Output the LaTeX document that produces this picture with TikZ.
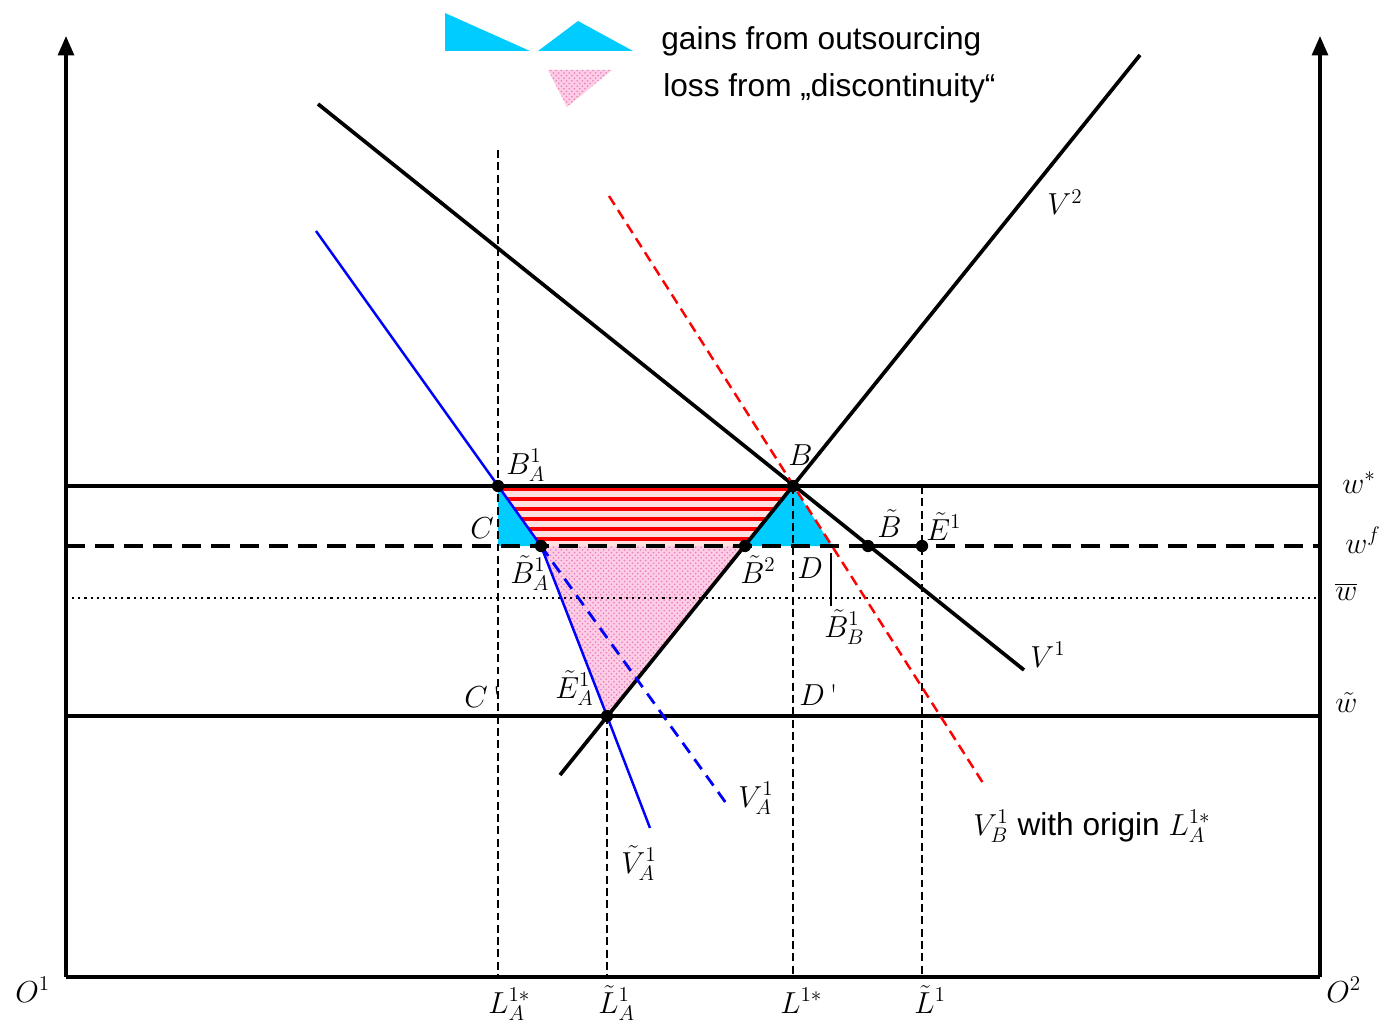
\documentclass[tikz,border=0pt]{standalone}
\usepackage{fontspec}
\newfontfamily\legendfont{Liberation Sans}
\usetikzlibrary{arrows.meta,patterns}
\definecolor{gaincyan}{RGB}{0,204,255}
\definecolor{losspink}{RGB}{252,205,228}
\definecolor{losshatch}{RGB}{236,120,190}

\begin{document}
\begin{tikzpicture}[x=0.02cm, y=-0.02cm, >={Triangle[length=11pt,width=9pt]},
  axis/.style={line width=1.9pt},
  curve/.style={line width=2.1pt},
  guide/.style={line width=0.75pt, dash pattern=on 4.5pt off 2.5pt},
  pt/.style={circle, fill, inner sep=0pt, minimum size=7pt},
  lbl/.style={anchor=base west, inner sep=0pt, font=\fontsize{17}{20}\selectfont},
  legend/.style={anchor=base west, inner sep=0pt, font=\legendfont\fontsize{18}{22}\selectfont}]
  \useasboundingbox (0,0) rectangle (1380,1027);

  \coordinate (O1) at (66,977);
  \coordinate (O2) at (1320,977);
  \coordinate (top1) at (66,36);
  \coordinate (top2) at (1320,36);
  \coordinate (BA) at (498,486);
  \coordinate (tBA) at (541,546);
  \coordinate (C) at (498,546);
  \coordinate (tB2) at (745,546);
  \coordinate (B) at (793,486);
  \coordinate (BB) at (832,546);
  \coordinate (tB) at (868,546);
  \coordinate (tE) at (922,546);
  \coordinate (tEA) at (607,716);

  % legend
  \fill[gaincyan] (445,13) -- (445,51) -- (530,51) -- cycle;
  \fill[gaincyan] (538,51) -- (578,21) -- (633,51) -- cycle;
  \fill[losspink, postaction={pattern=crosshatch dots, pattern color=losshatch}] (548,70) -- (612,70) -- (567,107) -- cycle;
  \node[legend] (gains) at (661,50) {gains from outsourcing};
  \node[legend] (loss) at (663,97) {loss from „discontinuity“};

  % areas
  \begin{scope}
    \clip (BA) -- (B) -- (tB2) -- (tBA) -- cycle;
    \fill[red!12] (480,480) rectangle (820,550);
    \foreach \y in {489,499,...,539}
      \draw[red, line width=2.4pt] (480,\y) -- (820,\y);
  \end{scope}
  \fill[gaincyan] (BA) -- (C) -- (tBA) -- cycle;
  \fill[gaincyan] (B) -- (tB2) -- (BB) -- cycle;
  \fill[losspink, postaction={pattern=crosshatch dots, pattern color=losshatch}] (tBA) -- (tB2) -- (tEA) -- cycle;

  % guides
  \draw[guide] (498,150) -- (498,977);
  \draw[guide] (tEA) -- (607,977);
  \draw[guide] (B) -- (793,977);
  \draw[guide] (922,486) -- (922,977);
  \draw[line width=1.2pt, dash pattern=on 1.2pt off 2.3pt] (66,598) -- (1320,598);
  \draw[line width=0.9pt] (831,553) -- (831,606);

  % axes and wage lines
  \draw[axis,->] (O1) -- (top1);
  \draw[axis,->] (O2) -- (top2);
  \draw[axis] (O1) -- (O2);
  \draw[curve] (66,486) -- (1320,486);
  \draw[curve, dash pattern=on 11pt off 5.5pt] (66,546) -- (1320,546);
  \draw[curve] (66,716) -- (1320,716);
  \draw[curve] (tB) -- (tE);

  % curves
  \draw[curve] (318,104) -- (1024,670);
  \draw[curve] (560,775) -- (1140,55);
  \draw[blue, line width=1.4pt] (316,231) -- (tBA) -- (tEA) -- (650,828);
  \draw[blue, line width=1.6pt, dash pattern=on 7pt off 4.5pt] (tBA) -- (726,803);
  \draw[red, line width=1.4pt, dash pattern=on 6pt off 3.5pt] (609,196) -- (983,783);

  \foreach \p in {BA,tBA,tB2,B,tB,tE,tEA}
    \node[pt] at (\p) {};

  % labels
  \node[lbl] at (506,474) {$B^1_A$};
  \node[lbl] at (470,538) {$C$};
  \node[lbl] at (510,583) {$\tilde B^1_A$};
  \node[lbl] at (740,583) {$\tilde B^2$};
  \node[lbl] at (788,465) {$B$};
  \node[lbl] at (797,578) {$D$};
  \node[lbl] at (877,537) {$\tilde B$};
  \node[lbl] at (926,540) {$\tilde E^1$};
  \node[lbl] at (824,637) {$\tilde B^1_B$};
  \node[lbl] at (464,707) {$C$\,\textquotesingle};
  \node[lbl] at (799,705) {$D$\,\textquotesingle};
  \node[lbl] at (555,698) {$\tilde E^1_A$};
  \node[lbl] at (738,807) {$V^1_A$};
  \node[lbl] at (621,873) {$\tilde V^1_A$};
  \node[lbl] at (1030,667) {$V^1$};
  \node[lbl] at (1047,215) {$V^2$};
  \node[lbl] at (1342,493) {$w^*$};
  \node[lbl] at (1345,553) {$w^f$};
  \node[lbl] at (1335,600) {$\overline{w}$};
  \node[lbl] at (1335,712) {$\tilde w$};
  \node[lbl] at (15,1002) {$O^1$};
  \node[lbl] at (1326,1002) {$O^2$};
  \node[lbl] at (488,1013) {$L^{1*}_A$};
  \node[lbl] at (598,1013) {$\tilde L^1_A$};
  \node[lbl] at (780,1013) {$L^{1*}$};
  \node[lbl] at (914,1013) {$\tilde L^1$};
  \node[lbl] at (973,835) {$V^1_B$ \legendfont\fontsize{18}{22}\selectfont with origin $L^{1*}_A$};
\end{tikzpicture}
\end{document}
